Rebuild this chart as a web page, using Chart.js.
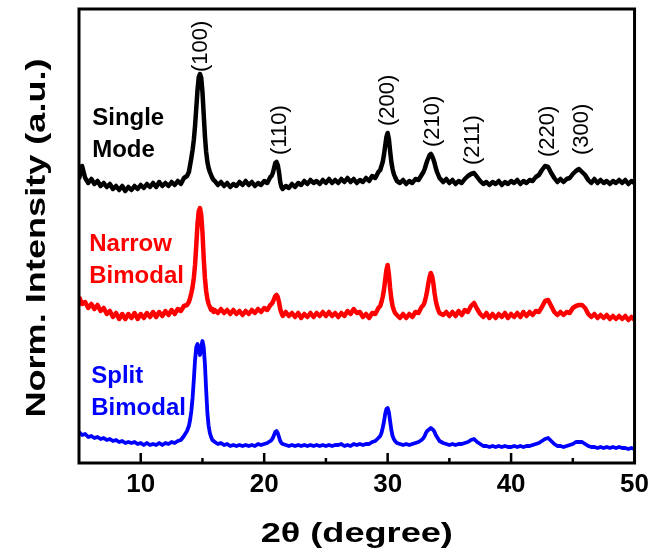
<!DOCTYPE html>
<html><head><meta charset="utf-8">
<script src="https://cdn.jsdelivr.net/npm/chart.js@4.4.1/dist/chart.umd.min.js"></script>
<style>html,body{margin:0;padding:0;background:#fff;}canvas{display:block;}</style>
</head><body>
<canvas id="c" width="655" height="558"></canvas>
<script>
// 2-theta grid (degrees)
const twoTheta = [
 5,5.25,5.5,5.75,6,6.25,6.5,6.75,7,7.25,7.5,7.75,8,8.25,8.5,8.75,9,9.25,9.5,9.75,10,10.25,10.5,10.75,11,11.25,11.5,11.75,12,12.25,12.5,12.75,13,13.25,13.5,13.75,
 13.9,14,14.1,14.2,14.3,14.4,14.5,14.6,14.7,14.8,14.9,15,15.1,15.2,15.3,15.4,15.5,15.6,15.7,15.8,15.9,
 16,16.25,16.5,16.75,17,17.25,17.5,17.75,18,18.25,18.5,18.75,19,19.25,19.5,19.75,20,20.25,20.5,
 20.6,20.7,20.8,20.9,21,21.1,21.2,21.3,21.4,21.5,
 21.75,22,22.25,22.5,22.75,23,23.25,23.5,23.75,24,24.25,24.5,24.75,25,25.25,25.5,25.75,26,26.25,26.5,26.75,27,27.25,27.5,27.75,28,28.25,28.5,28.75,29,29.25,
 29.4,29.5,29.6,29.7,29.8,29.9,30,30.1,30.2,30.3,30.4,30.5,30.6,
 30.75,31,31.25,31.5,31.75,32,32.25,32.5,32.75,
 32.9,33,33.1,33.2,33.3,33.4,33.5,33.6,33.7,33.8,33.9,34,34.1,34.2,
 34.5,34.75,35,35.25,35.5,35.75,36,36.25,36.5,36.75,37,37.25,37.5,37.75,38,38.25,38.5,38.75,39,39.25,39.5,39.75,40,40.25,40.5,40.75,41,41.25,41.5,41.75,42,42.25,42.5,42.75,43,43.25,43.5,43.75,44,44.25,44.5,44.75,45,45.25,45.5,45.75,46,46.25,46.5,46.75,47,47.25,47.5,47.75,48,48.25,48.5,48.75,49,49.25,49.5,49.75,50
];
// Normalized intensity (a.u., stacked)
const singleMode = [
 284,297,285,280,284,279,282,277,280,276,279,274,277,273,277,272,276,273,277,274,278,275,279,276,280,276,281,277,280,277,281,278,282,279,285,287,
 291,298,305,313,323,337,355,373,386,389,385,371,349,327,311,301,295,291,288,285,283,
 282,278,281,277,280,276,279,277,281,278,282,278,281,277,280,278,282,280,286,
 287,290,295,300,301,298,291,281,276,274,
 277,275,279,276,280,278,282,279,283,280,282,279,283,280,284,280,283,280,284,281,285,281,284,280,283,281,285,282,287,285,291,
 293,297,301,308,317,326,330,324,312,301,294,289,286,
 282,280,283,279,282,280,284,283,288,
 291,294,298,302,305,308,309,307,304,300,295,291,288,285,
 281,284,280,283,279,282,280,284,287,289,290,286,282,279,281,278,281,279,282,278,281,279,282,280,283,279,282,280,283,282,286,288,293,297,296,290,285,281,284,281,284,285,289,292,294,291,288,283,280,284,280,283,280,282,279,282,280,283,280,283,279,282,280
];
const narrowBimodal = [
 166,159,161,155,159,154,158,152,155,149,152,146,150,144,149,144,149,145,150,144,149,145,150,146,151,146,151,147,152,148,153,149,154,152,157,158,
 161,165,170,176,185,198,218,239,252,255,248,231,205,185,172,164,159,156,153,154,151,
 153,150,154,150,153,149,153,149,152,148,152,149,153,150,154,151,155,153,158,
 159,161,164,167,168,166,161,154,150,147,
 151,147,150,146,150,145,149,146,150,146,150,147,151,147,151,147,150,146,150,147,152,149,154,150,151,146,149,145,150,149,155,
 157,161,166,173,183,193,198,189,175,164,157,153,150,
 148,145,149,145,149,146,151,150,156,
 158,161,166,172,180,186,190,187,180,170,162,157,153,150,
 148,151,147,151,147,152,148,153,151,157,160,154,149,146,150,145,149,145,149,146,150,145,149,146,150,146,151,147,151,148,152,151,156,162,163,157,151,148,151,148,151,150,155,157,158,158,155,149,146,149,145,148,145,148,144,147,144,147,144,147,143,146,143
];
const splitBimodal = [
 31,28,29,26,27,25,26,24,25,23,24,22,23,21,22,20,21,20,21,19,20,18,20,18,19,18,20,18,20,19,21,20,22,23,27,32,
 37,43,52,65,83,103,116,119,114,108,116,122,116,99,73,50,37,30,26,23,22,
 21,19,20,18,19,17,18,17,18,17,18,17,18,17,19,18,19,20,22,
 23,25,28,31,32,30,26,22,20,19,
 18,17,18,17,18,17,18,17,18,17,18,17,18,17,18,17,18,18,19,17,18,17,19,18,19,18,19,19,21,22,25,
 27,30,35,41,49,54,55,51,42,33,27,24,22,
 20,19,18,19,18,19,20,21,23,
 25,27,30,32,33,34,35,34,33,31,28,26,24,22,
 20,19,18,19,18,19,19,20,21,23,24,21,19,17,17,16,17,16,17,16,17,16,16,17,16,17,16,17,17,18,19,20,22,24,25,22,19,17,17,16,17,18,19,21,21,21,19,17,16,16,15,16,15,16,15,16,15,16,15,15,14,15,14
];
const seriesNames = [['Single','Mode'],['Narrow','Bimodal'],['Split','Bimodal']];
const seriesColors = ['#000000','#ff0000','#0000ff'];
const xTickValues = [10,20,30,40,50];
const xMinorTicks = [15,25,35,45];
const peakLabels = ['(100)','(110)','(200)','(210)','(211)','(220)','(300)'];
const peakLabelX = [14.9,21.3,30.05,33.7,36.9,43.0,45.7];
const peakLabelY = [391,308,337,316,298,306,308];
const nameLabelX = [6.07,5.83,5.99];
const nameLabelY = [338,212,80];

const seriesValues = [singleMode, narrowBimodal, splitBimodal];
const lineWidths = [4.5, 4.5, 3.8];
const datasets = seriesValues.map((vals, k) => ({
  label: seriesNames[k].join(' '),
  data: twoTheta.map((t, i) => ({x: t, y: vals[i]})),
  borderColor: seriesColors[k],
  backgroundColor: seriesColors[k],
  borderWidth: lineWidths[k],
  borderJoinStyle: 'round',
  pointRadius: 0,
  tension: 0,
  fill: false
}));

const FONT = '"Liberation Sans", Arial, sans-serif';
const decor = {
  id: 'decor',
  afterDraw(chart) {
    const {ctx, chartArea: a, scales: {x, y}} = chart;
    ctx.save();
    ctx.strokeStyle = '#000';
    ctx.lineWidth = 3;
    ctx.strokeRect(a.left, a.top, a.right - a.left, a.bottom - a.top);
    ctx.lineWidth = 2.5;
    ctx.beginPath();
    xTickValues.forEach(v => { const p = x.getPixelForValue(v); ctx.moveTo(p, a.bottom); ctx.lineTo(p, a.bottom - 10); });
    xMinorTicks.forEach(v => { const p = x.getPixelForValue(v); ctx.moveTo(p, a.bottom); ctx.lineTo(p, a.bottom - 5); });
    ctx.stroke();
    ctx.fillStyle = '#000';
    ctx.font = '22px ' + FONT;
    ctx.textAlign = 'left';
    ctx.textBaseline = 'middle';
    peakLabels.forEach((t, i) => {
      ctx.save();
      ctx.translate(x.getPixelForValue(peakLabelX[i]), y.getPixelForValue(peakLabelY[i]));
      ctx.rotate(-Math.PI / 2);
      ctx.fillText(t, 0, 0);
      ctx.restore();
    });
    ctx.font = 'bold 24px ' + FONT;
    ctx.textBaseline = 'alphabetic';
    seriesNames.forEach((lines, i) => {
      ctx.fillStyle = seriesColors[i];
      lines.forEach((t, j) => ctx.fillText(t, x.getPixelForValue(nameLabelX[i]), y.getPixelForValue(nameLabelY[i]) + j * 31.5));
    });
    ctx.fillStyle = '#000';
    ctx.font = 'bold 28px ' + FONT;
    ctx.textAlign = 'center';
    ctx.save();
    ctx.translate((a.left + a.right) / 2, 542);
    ctx.scale(1.29, 1);
    ctx.fillText('2\u03B8 (degree)', 0, 0);
    ctx.restore();
    ctx.save();
    ctx.translate(45, (a.top + a.bottom) / 2 + 2);
    ctx.rotate(-Math.PI / 2);
    ctx.scale(1.29, 1);
    ctx.fillText('Norm. Intensity (a.u.)', 0, 0);
    ctx.restore();
    ctx.restore();
  }
};

new Chart(document.getElementById('c'), {
  type: 'line',
  data: {datasets},
  options: {
    responsive: false,
    animation: false,
    devicePixelRatio: 1,
    layout: {padding: {left: 79, right: 18, top: 9, bottom: 0}},
    plugins: {legend: {display: false}, tooltip: {enabled: false}},
    scales: {
      x: {
        type: 'linear', min: 5, max: 50, position: 'bottom',
        afterBuildTicks: s => { s.ticks = xTickValues.map(v => ({value: v})); },
        afterFit: s => { s.height = 95; },
        grid: {display: false, drawTicks: false},
        border: {display: false},
        ticks: {color: '#000', padding: 6, font: {family: FONT, size: 26, weight: 'bold'}}
      },
      y: {min: 0, max: 454, display: false}
    }
  },
  plugins: [decor]
});
</script>
</body></html>
